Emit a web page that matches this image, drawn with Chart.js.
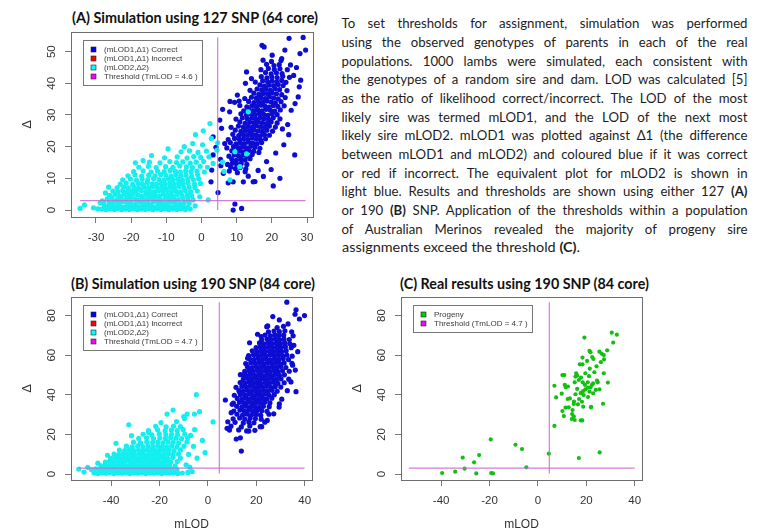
<!DOCTYPE html>
<html>
<head>
<meta charset="utf-8">
<script src="https://cdn.jsdelivr.net/npm/chart.js@4.4.1/dist/chart.umd.min.js"></script>
<style>
  body { margin: 0; width: 766px; height: 531px; background: #fff; position: relative; overflow: hidden; font-family: Lato, "Liberation Sans", sans-serif; }
  canvas { position: absolute; }
  .ttl { position: absolute; white-space: nowrap; font-weight: bold; font-size: 14.5px; line-height: 18px; color: #111; transform-origin: 0 50%; }
  .ln { position: absolute; left: 341.5px; white-space: nowrap; font-size: 13.2px; line-height: 18px; color: #1d1d1d; transform-origin: 0 50%; }
</style>
</head>
<body>

<div class="ttl" id="tA" style="left:72px;top:9px" data-w="246">(A) Simulation using 127 SNP (64 core)</div>
<div class="ttl" id="tB" style="left:71px;top:275px" data-w="244">(B) Simulation using 190 SNP (84 core)</div>
<div class="ttl" id="tC" style="left:400px;top:275px" data-w="249">(C) Real results using 190 SNP (84 core)</div>

<div id="para"></div>

<canvas id="cA" width="330" height="231" style="left:0;top:26px"></canvas>
<canvas id="cB" width="330" height="239" style="left:0;top:292px"></canvas>
<canvas id="cC" width="330" height="239" style="left:330px;top:292px"></canvas>

<script>
// tick labels
const aXTicks = [-30, -20, -10, 0, 10, 20, 30];
const aYTicks = [0, 10, 20, 30, 40, 50];
const bcXTicks = [-40, -20, 0, 20, 40];
const bcYTicks = [0, 20, 40, 60, 80];

// thresholds
const tmlodA = 4.6;
const tmlodBC = 4.7;
const deltaCut = 3;

// (A) 127 SNP - mLOD1 vs delta1, correct assignments
const aMlod1 = [
  [7.9,12.3],[10.2,11.8],[12.4,12.1],[8.3,13.5],[9.6,13.1],[11.0,13.4],[12.6,13.0],
  [7.4,14.4],[8.8,14.8],[10.0,14.5],[11.3,14.7],[12.9,14.4],[8.6,16.1],[9.9,15.7],[11.2,16.0],[12.4,15.8],[13.8,16.2],
  [7.8,17.0],[9.3,17.4],[10.5,17.1],[11.8,17.3],[13.0,17.0],[14.4,17.5],
  [8.6,18.7],[9.9,18.3],[11.1,18.6],[12.3,18.4],[13.5,18.8],[14.8,18.5],[16.3,18.2],
  [7.2,19.6],[9.1,20.0],[10.4,19.7],[11.6,19.9],[12.8,19.6],[14.0,20.1],[15.2,19.8],[16.6,19.5],
  [8.2,21.3],[9.8,20.9],[11.0,21.2],[12.2,21.0],[13.4,21.4],[14.6,21.1],[15.8,20.9],[17.1,21.3],
  [7.6,22.2],[9.4,22.6],[10.8,22.3],[12.0,22.5],[13.2,22.2],[14.4,22.7],[15.6,22.4],[16.8,22.1],[18.2,22.5],
  [8.9,23.9],[10.6,23.5],[11.9,23.8],[13.1,23.6],[14.3,24.0],[15.5,23.7],[16.7,23.4],[17.9,23.8],[19.3,23.6],
  [9.6,25.2],[11.2,24.8],[12.5,25.1],[13.7,24.9],[14.9,25.3],[16.1,25.0],[17.3,24.8],[18.6,25.2],[20.2,24.9],
  [8.4,26.1],[10.5,26.5],[11.9,26.2],[13.2,26.4],[14.4,26.1],[15.6,26.6],[16.8,26.3],[18.0,26.1],[19.3,26.5],[21.0,26.2],
  [10.9,27.8],[12.4,27.4],[13.7,27.7],[14.9,27.5],[16.1,27.9],[17.3,27.6],[18.5,27.3],[19.8,27.8],[21.5,27.5],
  [9.8,28.7],[11.6,29.1],[13.0,28.8],[14.3,29.0],[15.5,28.7],[16.7,29.2],[17.9,28.9],[19.1,28.6],[20.4,29.1],[22.3,28.8],
  [11.2,30.4],[12.8,30.0],[14.1,30.3],[15.3,30.1],[16.5,30.5],[17.7,30.2],[18.9,29.9],[20.1,30.4],[21.5,30.1],
  [12.0,31.3],[13.5,31.7],[14.8,31.4],[16.0,31.6],[17.2,31.3],[18.4,31.8],[19.6,31.5],[20.8,31.2],[22.4,31.6],
  [10.9,33.0],[12.9,32.6],[14.3,32.9],[15.6,32.7],[16.8,33.1],[18.0,32.8],[19.2,32.5],[20.4,33.0],[21.7,32.7],[23.5,32.9],
  [13.4,34.3],[14.9,33.9],[16.2,34.2],[17.4,34.0],[18.6,34.4],[19.8,34.1],[21.0,33.8],[22.6,34.2],
  [12.3,35.2],[14.2,35.6],[15.6,35.3],[16.9,35.5],[18.1,35.2],[19.3,35.7],[20.5,35.4],[21.8,35.1],[23.8,35.5],
  [14.9,36.9],[16.3,36.5],[17.6,36.8],[18.8,36.6],[20.0,37.0],[21.3,36.7],[22.8,36.4],
  [13.8,37.8],[15.8,38.2],[17.1,37.9],[18.4,38.1],[19.6,37.8],[20.9,38.3],[22.2,38.0],[24.3,37.7],
  [16.6,39.5],[17.9,39.1],[19.2,39.4],[20.5,39.2],[21.8,39.6],[23.2,39.3],
  [15.3,40.4],[17.4,40.8],[18.8,40.5],[20.1,40.7],[21.4,40.4],[22.8,40.9],
  [17.0,42.1],[18.6,41.7],[20.0,42.0],[21.5,41.8],[23.1,42.2],[25.0,41.9],
  [18.2,43.4],[19.8,43.0],[21.3,43.3],[22.9,43.1],[16.9,44.3],[19.0,44.7],[20.7,44.4],[22.3,44.6],[24.4,44.3],
  [18.5,46.0],[20.6,45.6],[22.1,45.9],[17.5,47.3],[19.9,46.9],[22.6,47.2],
  [24.9,54.2],[28.9,54.5],[29.6,50.5],[28.0,49.4],[17.2,52.0],[17.8,51.5],[23.7,50.5],[22.8,47.8],
  [28.2,41.0],[27.8,38.9],[27.5,35.7],[26.5,17.4],[22.3,10.0],[20.4,7.6],[4.7,5.5],[9.5,1.9],[9.0,0.0],[11.4,0.5],
  [7.6,8.6],[6.2,11.6],[2.9,12.6],[3.3,17.4],[5.7,25.8],[3.3,23.1],[5.2,28.4],[2.7,8.9],[9.0,8.9],[11.9,8.9],
  [14.7,8.9],[17.6,10.6],[19.8,12.8],[24.5,27.0],[25.5,31.5],[26.2,42.5],[25.3,45.8],[14.2,41.5],[12.8,43.6],
  [12.5,40.0],[10.2,36.3],[8.1,34.3],[9.4,34.0],[10.7,34.4],[8.0,31.0],[6.6,21.0],[5.4,16.0],[13.3,10.7],
  [16.1,12.5],[18.5,15.3],[23.4,20.6],[24.8,23.8],[15.2,9.0],[4.1,19.8],[6.0,31.8],[21.1,18.0],[23.0,25.6],
  [26.6,33.6],[27.0,45.0],[20.1,48.9],[24.0,40.3],[5.5,14.0]
];
const aMlod1Wrong = [];

// (A) 127 SNP - mLOD2 vs delta2
const aMlod2 = [
  [-28.3,0.3],[-27.1,0.1],[-26.0,0.4],[-24.8,0.2],[-23.9,0.5],[-22.7,0.1],[-21.6,0.3],[-20.5,0.2],[-19.4,0.4],[-18.2,0.1],
  [-17.1,0.3],[-16.0,0.2],[-14.9,0.5],[-13.8,0.1],[-12.6,0.3],[-11.5,0.2],[-10.4,0.4],[-9.3,0.1],[-8.1,0.3],[-7.0,0.2],
  [-5.9,0.4],[-4.6,0.1],[-3.2,0.3],
  [-27.6,1.3],[-26.5,1.0],[-25.4,1.4],[-24.3,1.1],[-23.2,1.2],[-22.1,0.9],[-21.0,1.4],[-19.9,1.1],[-18.8,1.2],[-17.6,1.0],
  [-16.5,1.3],[-15.4,1.1],[-14.3,1.4],[-13.2,0.9],[-12.0,1.2],[-10.9,1.1],[-9.8,1.3],[-8.7,1.0],[-7.5,1.4],[-6.3,1.1],
  [-5.2,1.2],[-3.9,0.9],[-1.8,1.3],
  [-27.9,2.4],[-26.3,2.2],[-25.0,2.5],[-23.6,2.1],[-22.5,2.6],[-21.2,2.2],[-20.1,2.4],[-18.7,2.0],[-17.4,2.5],[-16.3,2.3],
  [-15.1,2.1],[-13.7,2.6],[-12.4,2.2],[-11.3,2.4],[-10.0,2.1],[-8.8,2.5],[-7.6,2.3],[-6.2,2.0],[-4.9,2.4],[-3.5,2.2],
  [-26.8,3.5],[-25.5,3.8],[-24.1,3.3],[-22.9,3.6],[-21.5,3.4],[-20.3,3.9],[-19.0,3.5],[-17.8,3.2],[-16.6,3.7],[-15.3,3.4],
  [-14.1,3.8],[-12.9,3.5],[-11.7,3.3],[-10.3,3.7],[-9.1,3.4],[-7.9,3.6],[-6.6,3.3],[-5.3,3.8],[-3.9,3.5],[-2.4,3.2],
  [-26.1,4.6],[-24.6,4.9],[-23.3,4.5],[-22.0,4.8],[-20.7,4.6],[-19.5,5.0],[-18.1,4.7],[-16.9,4.4],[-15.6,4.9],[-14.5,4.6],
  [-13.2,4.8],[-11.9,4.5],[-10.8,5.0],[-9.5,4.7],[-8.3,4.4],[-7.0,4.9],[-5.6,4.6],[-4.1,4.8],[-2.8,4.5],
  [-25.2,6.0],[-23.8,5.8],[-22.4,6.1],[-21.1,5.7],[-19.8,6.0],[-18.6,5.9],[-17.2,6.2],[-15.9,5.8],[-14.7,6.0],[-13.4,5.7],
  [-12.2,6.1],[-11.0,5.9],[-9.8,6.2],[-8.5,5.8],[-7.3,6.0],[-6.0,5.7],[-4.6,6.1],[-3.1,5.8],[-1.2,6.0],
  [-24.0,7.0],[-22.1,7.3],[-20.8,7.0],[-19.2,7.2],[-17.9,6.9],[-16.4,7.3],[-15.1,7.1],[-13.9,7.4],[-12.6,7.0],[-11.4,7.2],
  [-10.2,6.9],[-8.9,7.3],[-7.7,7.1],[-6.4,7.4],[-5.0,7.0],[-3.5,7.2],[-1.9,7.1],
  [-23.1,8.2],[-21.4,8.5],[-19.6,8.1],[-18.0,8.4],[-16.8,8.2],[-15.4,8.6],[-14.0,8.3],[-12.8,8.1],[-11.5,8.5],[-10.3,8.2],
  [-9.0,8.4],[-7.8,8.1],[-6.5,8.5],[-5.2,8.3],[-3.8,8.6],[-2.0,8.2],[-0.3,8.4],
  [-22.4,9.5],[-20.2,9.8],[-18.5,9.4],[-16.9,9.7],[-15.3,9.5],[-13.6,9.9],[-12.1,9.6],[-10.7,9.4],[-9.4,9.8],[-8.1,9.5],
  [-6.7,9.7],[-5.4,9.4],[-3.9,9.8],[-2.3,9.6],[-0.8,9.9],
  [-20.9,10.8],[-18.9,11.1],[-17.0,10.7],[-15.0,11.0],[-13.2,10.8],[-11.6,11.2],[-10.1,10.9],[-8.6,10.7],[-7.3,11.1],
  [-5.9,10.8],[-4.4,11.0],[-2.8,10.7],[-1.1,11.1],
  [-19.3,12.1],[-16.6,12.4],[-14.3,12.0],[-12.5,12.3],[-10.6,12.1],[-8.9,12.5],[-7.4,12.2],[-6.0,12.0],[-4.5,12.4],
  [-3.0,12.1],[-1.3,12.3],[0.8,12.0],
  [-17.8,13.5],[-15.1,13.8],[-12.9,13.4],[-10.2,13.7],[-8.1,13.5],[-6.2,13.9],[-4.3,13.6],[-2.6,13.4],[-0.4,13.8],[1.7,13.5],
  [-14.8,15.1],[-11.8,14.9],[-9.0,15.3],[-7.1,15.0],[-5.3,15.2],[-3.2,14.8],[-1.5,15.1],[0.6,15.3],[3.3,14.7],
  [-14.2,17.2],[-10.5,16.5],[-6.9,16.8],[-4.1,16.4],[-2.2,16.9],[-0.2,16.6],[2.1,16.8],[6.0,15.1],
  [-9.5,19.3],[-5.8,18.4],[-3.4,18.7],[-1.0,18.2],[1.4,18.6],[4.4,18.9],
  [-4.9,20.0],[-2.5,21.0],[-1.7,23.8],[0.5,25.0],[2.4,27.3],[4.6,21.2],[9.5,18.4],[12.8,17.7],[10.9,13.7],[13.3,31.0],
  [8.1,9.5],[1.9,3.2],[-0.5,4.2],[-18.8,14.9],[-16.6,15.6],[0.3,20.6],[2.8,22.6],[6.4,12.2],
  [-34.5,0.5],[-33.3,1.6],[-30.7,0.7],[-29.5,0.4],[-28.8,2.3],[-28.2,2.9],[-26.4,7.2],[-27.3,5.4]
];

// (B) 190 SNP - mLOD1 vs delta1, correct
const bMlod1 = [
  [12.7,22.3],[16.0,21.8],[19.4,22.1],[9.5,24.2],[13.8,23.8],[17.3,24.3],[21.6,23.9],
  [11.2,26.1],[14.6,25.8],[16.9,26.3],[19.0,25.9],[23.5,26.2],
  [10.4,27.9],[13.1,28.3],[15.2,27.8],[17.4,28.2],[19.6,28.0],[22.0,27.7],
  [12.0,30.2],[14.3,29.8],[16.1,30.3],[18.0,29.9],[19.9,30.1],[21.8,29.7],[25.2,30.2],
  [10.7,31.8],[13.2,32.3],[15.0,31.9],[16.8,32.2],[18.6,31.8],[20.4,32.3],[22.2,32.0],[24.4,31.7],
  [11.9,34.2],[14.0,33.8],[15.8,34.3],[17.6,33.9],[19.3,34.1],[21.1,33.7],[22.9,34.2],[25.3,34.0],[29.4,33.8],
  [10.5,35.8],[13.0,36.2],[14.8,35.9],[16.5,36.3],[18.3,35.8],[20.0,36.1],[21.7,35.9],[23.5,36.3],[25.6,35.9],
  [12.1,38.2],[14.1,37.8],[15.8,38.3],[17.5,37.9],[19.2,38.1],[20.9,37.7],[22.6,38.2],[24.3,37.9],[26.4,38.3],[30.5,37.8],
  [10.9,39.8],[13.4,40.2],[15.2,39.9],[16.9,40.3],[18.5,39.8],[20.2,40.1],[21.9,39.9],[23.6,40.3],[25.3,39.8],[27.4,40.1],
  [12.8,42.2],[14.6,41.8],[16.3,42.3],[18.0,41.9],[19.7,42.1],[21.4,41.7],[23.1,42.2],[24.8,41.9],[26.5,42.3],[28.6,41.8],[32.8,42.1],
  [11.6,43.8],[14.0,44.2],[15.8,43.9],[17.5,44.3],[19.2,43.8],[20.9,44.1],[22.6,43.9],[24.3,44.3],[26.0,43.8],[27.8,44.1],[30.1,43.9],
  [13.3,46.2],[15.2,45.8],[16.9,46.3],[18.6,45.9],[20.3,46.1],[22.0,45.7],[23.7,46.2],[25.4,45.9],[27.1,46.3],[28.9,45.8],[31.5,46.1],
  [14.6,47.8],[16.4,48.2],[18.1,47.9],[19.8,48.3],[21.5,47.8],[23.2,48.1],[24.9,47.9],[26.6,48.3],[28.3,47.8],[30.2,48.1],[33.4,47.9],
  [13.4,50.2],[15.7,49.8],[17.5,50.3],[19.2,49.9],[20.9,50.1],[22.6,49.7],[24.3,50.2],[26.0,49.9],[27.7,50.3],[29.5,49.8],[31.6,50.1],
  [15.2,51.8],[17.0,52.2],[18.7,51.9],[20.4,52.3],[22.1,51.8],[23.8,52.1],[25.5,51.9],[27.2,52.3],[28.9,51.8],[30.8,52.1],[33.6,51.9],
  [16.3,54.2],[18.2,53.8],[19.9,54.3],[21.6,53.9],[23.3,54.1],[25.0,53.7],[26.7,54.2],[28.4,53.9],[30.1,54.3],[32.2,53.8],
  [15.6,55.8],[17.7,56.2],[19.5,55.9],[21.2,56.3],[22.9,55.8],[24.6,56.1],[26.3,55.9],[28.0,56.3],[29.7,55.8],[31.5,56.1],[34.7,55.9],
  [17.2,58.2],[19.1,57.8],[20.8,58.3],[22.5,57.9],[24.2,58.1],[25.9,57.7],[27.6,58.2],[29.3,57.9],[31.1,58.3],[33.3,57.8],
  [16.8,59.8],[18.8,60.2],[20.5,59.9],[22.2,60.3],[23.9,59.8],[25.6,60.1],[27.3,59.9],[29.0,60.3],[30.8,59.8],[32.6,60.1],
  [18.3,62.2],[20.2,61.8],[21.9,62.3],[23.6,61.9],[25.3,62.1],[27.0,61.7],[28.7,62.2],[30.4,61.9],[32.3,62.3],[37.1,61.8],
  [19.9,63.8],[21.7,64.2],[23.4,63.9],[25.1,64.3],[26.8,63.8],[28.5,64.1],[30.2,63.9],[32.0,64.3],[34.4,63.8],
  [21.3,66.2],[23.1,65.8],[24.8,66.3],[26.5,65.9],[28.2,66.1],[29.9,65.7],[31.7,66.2],[33.8,65.9],
  [22.2,67.8],[24.4,68.2],[26.2,67.9],[27.9,68.3],[29.6,67.8],[31.4,68.1],[33.6,67.9],
  [23.6,70.2],[25.8,69.8],[27.6,70.3],[29.4,69.9],[31.3,70.1],[35.2,69.8],
  [25.0,71.8],[27.3,72.2],[29.5,71.9],[31.8,72.3],[34.6,71.8],[24.3,74.4],[28.6,74.0],[31.2,74.6],
  [32.6,86.8],[36.4,82.9],[36.0,80.7],[37.8,78.3],[39.9,80.0],[29.5,77.8],[11.7,17.7],[13.4,18.3],[13.8,11.6],
  [8.2,26.4],[8.9,22.2],[16.9,21.7],[22.2,23.9],[7.9,23.1],[7.2,37.4],[10.0,35.2],[35.0,55.0],[36.4,41.6],
  [29.5,35.4],[19.9,31.0],[27.2,30.4],[24.5,27.1],[34.3,46.5],[36.1,52.5],[33.1,75.8],[20.5,70.6],[17.2,66.3],
  [14.4,50.0],[13.0,41.6],[16.4,58.5],[24.7,74.8],[22.0,69.4],[35.5,65.0],[34.8,59.5],[9.6,31.0],[26.8,79.5]
];
const bMlod1Wrong = [];

// (B) 190 SNP - mLOD2 vs delta2
const bMlod2 = [
  [-47.1,0.6],[-45.4,0.3],[-43.8,0.7],[-42.1,0.4],[-40.5,0.8],[-38.8,0.3],[-37.2,0.6],[-35.5,0.4],[-33.9,0.7],[-32.2,0.3],
  [-30.6,0.6],[-28.9,0.4],[-27.3,0.8],[-25.6,0.3],[-24.0,0.6],[-22.3,0.4],[-20.7,0.7],[-19.0,0.3],[-17.4,0.6],[-15.7,0.4],
  [-14.1,0.7],[-12.4,0.3],[-10.6,0.5],
  [-48.2,2.3],[-46.4,2.6],[-44.7,2.2],[-43.0,2.5],[-41.3,2.3],[-39.6,2.7],[-38.0,2.4],[-36.3,2.2],[-34.7,2.6],[-33.0,2.3],
  [-31.4,2.5],[-29.7,2.2],[-28.1,2.6],[-26.4,2.4],[-24.8,2.2],[-23.1,2.6],[-21.5,2.3],[-19.8,2.5],[-18.2,2.2],[-16.5,2.6],
  [-14.9,2.4],[-12.8,2.2],
  [-44.3,4.2],[-42.5,4.5],[-40.8,4.1],[-39.1,4.4],[-37.4,4.2],[-35.8,4.6],[-34.1,4.3],[-32.5,4.1],[-30.8,4.5],[-29.2,4.2],
  [-27.5,4.4],[-25.9,4.1],[-24.2,4.5],[-22.6,4.3],[-20.9,4.1],[-19.3,4.5],[-17.6,4.2],[-15.9,4.4],[-13.6,4.1],
  [-42.4,6.1],[-40.6,6.4],[-38.9,6.0],[-37.1,6.3],[-35.4,6.1],[-33.8,6.5],[-32.1,6.2],[-30.5,6.0],[-28.8,6.4],[-27.2,6.1],
  [-25.5,6.3],[-23.9,6.0],[-22.2,6.4],[-20.6,6.2],[-18.9,6.0],[-17.3,6.4],[-15.4,6.1],[-12.7,6.3],
  [-40.2,8.0],[-38.3,8.3],[-36.6,7.9],[-34.9,8.2],[-33.2,8.0],[-31.6,8.4],[-29.9,8.1],[-28.3,7.9],[-26.6,8.3],[-25.0,8.0],
  [-23.3,8.2],[-21.7,7.9],[-20.0,8.3],[-18.4,8.1],[-16.6,7.9],[-14.5,8.3],[-11.4,8.0],
  [-38.8,10.1],[-36.9,9.8],[-35.1,10.2],[-33.4,9.9],[-31.7,10.1],[-30.0,9.8],[-28.3,10.2],[-26.7,10.0],[-25.0,9.8],
  [-23.4,10.2],[-21.7,9.9],[-20.0,10.1],[-18.3,9.8],[-16.5,10.2],[-14.6,9.9],[-12.2,10.1],
  [-36.6,12.1],[-34.4,11.8],[-32.4,12.2],[-30.5,11.9],[-28.7,12.1],[-26.9,11.8],[-25.1,12.2],[-23.4,12.0],[-21.6,11.8],
  [-19.8,12.2],[-18.0,11.9],[-16.1,12.1],[-14.0,11.8],[-11.3,12.2],
  [-33.7,14.1],[-31.3,13.8],[-29.0,14.2],[-26.9,13.9],[-24.8,14.1],[-22.8,13.8],[-20.8,14.2],[-18.9,14.0],[-17.0,13.8],
  [-15.0,14.2],[-12.8,13.9],[-9.9,14.1],
  [-30.8,16.1],[-27.9,15.8],[-25.3,16.2],[-22.9,15.9],[-20.7,16.1],[-18.6,15.8],[-16.5,16.2],[-14.4,16.0],[-12.1,15.8],[-8.7,16.2],
  [-28.6,18.0],[-25.4,18.3],[-22.5,17.9],[-19.9,18.2],[-17.6,18.0],[-15.4,18.4],[-13.2,18.1],[-10.9,17.9],[-8.4,18.3],
  [-26.8,20.1],[-23.2,19.8],[-20.1,20.2],[-17.4,19.9],[-15.0,20.1],[-12.6,19.8],[-9.6,20.2],
  [-24.6,22.0],[-20.8,22.3],[-17.7,21.9],[-15.1,22.2],[-12.7,22.0],[-10.2,22.4],
  [-21.6,24.1],[-17.3,23.8],[-14.2,24.2],[-11.4,24.0],
  [-53.4,2.5],[-49.7,3.4],[-51.2,1.0],[-4.8,40.1],[2.1,26.3],[-14.4,32.3],[-16.9,30.3],[-32.7,24.9],[-10.0,29.0],
  [-5.6,30.3],[-3.5,31.5],[-8.6,30.3],[-9.7,28.1],[-1.2,10.8],[-6.5,1.2],[-7.5,3.5],[-4.5,8.0],[-6.0,14.0],[-7.2,19.5],
  [-5.5,22.4],[-13.0,26.5],[-19.4,26.0],[-24.5,21.0],[-31.6,19.4],[-38.0,15.5],[-41.5,9.5],[-45.5,5.5],[-2.3,17.0],
  [-8.0,9.9],[-9.0,4.6],[-8.3,0.8]
];

// (C) real progeny, 190 SNP
const cProgeny = [
  [-39.6,0.5],[-34.2,1.2],[-30.3,2.7],[-31.1,8.3],[-26.4,5.9],[-24.3,9.6],[-25.5,0.3],[-19.5,17.5],[-19.3,0.5],[-18.6,0.3],
  [-9.3,14.8],[-6.6,12.6],[-4.8,3.4],[4.5,10.3],[16.9,8.1],[25.5,10.9],
  [30.5,71.4],[32.6,70.4],[19.2,68.9],[31.1,66.4],[21.3,62.2],[21.7,61.5],[25.4,61.8],[26.3,60.8],[27.2,60.1],[28.6,62.5],
  [18.4,58.8],[22.4,59.1],[22.9,58.1],[27.3,57.9],[17.3,55.4],[18.4,55.4],[20.3,57.1],[24.2,54.4],[21.4,53.2],[15.8,50.9],
  [19.6,50.9],[27.2,50.9],[10.1,50.0],[10.9,50.0],[16.2,49.7],[17.8,48.7],[21.1,49.4],[6.8,44.6],[11.1,45.0],[11.5,43.8],
  [15.2,46.3],[18.5,46.3],[19.4,45.0],[20.6,46.3],[22.3,45.0],[24.7,46.3],[28.9,46.2],[16.2,43.0],[18.7,41.9],[20.6,43.6],
  [17.7,40.8],[25.4,42.8],[23.9,42.5],[15.5,40.3],[18.9,39.9],[7.5,38.7],[12.3,37.9],[13.2,38.2],[22.8,40.8],[17.0,37.9],
  [20.7,38.9],[14.9,36.6],[16.5,35.2],[18.7,34.0],[22.0,33.9],[26.9,35.5],[10.1,31.8],[11.4,33.5],[14.3,32.3],[10.7,29.3],
  [14.1,30.3],[14.8,29.1],[14.0,27.8],[15.2,27.3],[17.7,27.1],[18.3,27.1],[6.8,24.3],
  [15.5,49.2],[16.9,47.5],[21.7,43.8],[22.8,45.8],[24.4,47.2],[19.6,42.8],[17.9,41.1],[21.3,41.6],[12.7,33.7],[14.8,35.4],
  [18.2,36.5],[21.9,33.7],[23.3,51.4],[12.4,44.2],[9.8,40.6],[26.0,56.5]
];

const paraLines = [
  'To set thresholds for assignment, simulation was performed',
  'using the observed genotypes of parents in each of the real',
  'populations. 1000 lambs were simulated, each consistent with',
  'the genotypes of a random sire and dam. LOD was calculated [5]',
  'as the ratio of likelihood correct/incorrect. The LOD of the most',
  'likely sire was termed mLOD1, and the LOD of the next most',
  'likely sire mLOD2. mLOD1 was plotted against Δ1 (the difference',
  'between mLOD1 and mLOD2) and coloured blue if it was correct',
  'or red if incorrect. The equivalent plot for mLOD2 is shown in',
  'light blue. Results and thresholds are shown using either 127 <b>(A)</b>',
  'or 190 <b>(B)</b> SNP. Application of the thresholds within a population',
  'of Australian Merinos revealed the majority of progeny sire',
  'assignments exceed the threshold <b>(C)</b>.'
];

const FONT = '"Liberation Sans", Arial, sans-serif';
const LINE_COL = 'rgba(204,102,204,0.85)';

// paragraph, one block per line, justified by word spacing
const para = document.getElementById('para');
paraLines.forEach((t, i) => {
  const d = document.createElement('div');
  d.className = 'ln';
  d.style.top = (14.3 + i * 18.67) + 'px';
  d.innerHTML = t;
  para.appendChild(d);
  const w = d.getBoundingClientRect().width;
  const gaps = (d.textContent.match(/ /g) || []).length;
  const target = i < paraLines.length - 1 ? 406 : 238;
  if (i < paraLines.length - 1 && w < target) d.style.wordSpacing = ((target - w) / gaps) + 'px';
  else d.style.transform = 'scaleX(' + (target / w) + ')';
});

document.querySelectorAll('.ttl').forEach(el => {
  const w = el.getBoundingClientRect().width;
  el.style.transform = 'scaleX(' + (+el.dataset.w / w) + ')';
});

const pts = arr => arr.map(([x, y]) => ({x, y}));

function dots(arr, color, order, legend, legendColor, r) {
  return {data: pts(arr), backgroundColor: color, borderWidth: 0, pointRadius: r || 2.6, order, legend, legendColor};
}

function thresholdLines(tm, all) {
  const xs = all.map(p => p[0]), ys = all.map(p => p[1]);
  const base = {showLine: true, borderColor: LINE_COL, borderWidth: 1.2, pointRadius: 0, order: 0};
  return [
    Object.assign({data: [{x: tm, y: Math.min(...ys)}, {x: tm, y: Math.max(...ys)}],
      legend: 'Threshold (TmLOD = ' + tm + ' )', legendColor: '#ff00ff'}, base),
    Object.assign({data: [{x: Math.min(...xs), y: deltaCut}, {x: Math.max(...xs), y: deltaCut}]}, base)
  ];
}

// R style frame, rotated y labels and boxed legend
const rStyle = {
  id: 'rStyle',
  afterDraw(chart) {
    const {ctx, chartArea: a, scales: {y}} = chart;
    ctx.save();
    ctx.strokeStyle = '#6e6e6e';
    ctx.lineWidth = 1;
    ctx.strokeRect(Math.round(a.left) + 0.5, Math.round(a.top) + 0.5, Math.round(a.right - a.left), Math.round(a.bottom - a.top));

    ctx.fillStyle = '#333';
    ctx.font = '11.5px ' + FONT;
    ctx.textAlign = 'center';
    ctx.textBaseline = 'middle';
    y.ticks.forEach(t => {
      ctx.save();
      ctx.translate(a.left - 19, y.getPixelForValue(t.value));
      ctx.rotate(-Math.PI / 2);
      ctx.fillText(String(t.value), 0, 0);
      ctx.restore();
    });

    const items = chart.data.datasets.filter(d => d.legend);
    const x0 = Math.round(a.left) + 12, y0 = Math.round(a.top) + 8;
    ctx.strokeStyle = '#777';
    ctx.strokeRect(x0 + 0.5, y0 + 0.5, 119, items.length * 9 + 9);
    ctx.font = '8px ' + FONT;
    ctx.textAlign = 'left';
    items.forEach((d, i) => {
      const cy = y0 + 9.5 + i * 9;
      ctx.fillStyle = d.legendColor;
      ctx.fillRect(x0 + 8, cy - 2.5, 5, 5);
      ctx.strokeStyle = '#222';
      ctx.lineWidth = 0.6;
      ctx.strokeRect(x0 + 8, cy - 2.5, 5, 5);
      ctx.fillStyle = '#3a3a3a';
      ctx.fillText(d.legend, x0 + 21, cy);
    });
    ctx.restore();
  }
};

function panel(id, o) {
  const axisGrid = {drawOnChartArea: false, tickLength: 6, color: '#777'};
  new Chart(document.getElementById(id), {
    type: 'scatter',
    data: {datasets: o.datasets},
    plugins: [rStyle],
    options: {
      responsive: false,
      animation: false,
      events: [],
      layout: {padding: {left: 0, right: o.padRight, top: o.padTop, bottom: 0}},
      plugins: {legend: {display: false}, tooltip: {enabled: false}},
      scales: {
        x: {
          type: 'linear', min: o.xMin, max: o.xMax,
          afterBuildTicks: s => { s.ticks = o.xTicks.map(v => ({value: v})); },
          afterFit: s => { s.height = o.xAxisH; },
          grid: axisGrid, border: {display: false},
          ticks: {font: {family: FONT, size: 11.5}, color: '#333', padding: 8, maxRotation: 0},
          title: {display: !!o.xTitle, text: o.xTitle || '', color: '#333',
                  font: {family: FONT, size: 12, lineHeight: 1}, padding: 0}
        },
        y: {
          type: 'linear', min: o.yMin, max: o.yMax,
          afterBuildTicks: s => { s.ticks = o.yTicks.map(v => ({value: v})); },
          afterFit: s => { s.width = 71; },
          grid: axisGrid, border: {display: false},
          ticks: {display: false},
          title: {display: true, text: 'Δ', color: '#333',
                  font: {family: FONT, size: 13, lineHeight: 1}, padding: {top: 21, bottom: 0}}
        }
      }
    }
  });
}

panel('cA', {
  xMin: -37.1, xMax: 31.7, yMin: -2.2, yMax: 56.2, xTicks: aXTicks, yTicks: aYTicks,
  padRight: 17, padTop: 6, xAxisH: 40,
  datasets: [
    dots(aMlod1, '#0c0cd2', 3, '(mLOD1,Δ1) Correct', '#0000ff'),
    dots(aMlod1Wrong, '#ff0000', 2, '(mLOD1,Δ1) Incorrect', '#ff0000'),
    dots(aMlod2, '#14eeee', 1, '(mLOD2,Δ2)', '#00ffff'),
    ...thresholdLines(tmlodA, aMlod1.concat(aMlod2))
  ]
});

panel('cB', {
  xMin: -56.6, xMax: 43.0, yMin: -3.0, yMax: 89.4, xTicks: bcXTicks, yTicks: bcYTicks,
  padRight: 18, padTop: 5, xAxisH: 51, xTitle: 'mLOD',
  datasets: [
    dots(bMlod1, '#0c0cd2', 3, '(mLOD1,Δ1) Correct', '#0000ff'),
    dots(bMlod1Wrong, '#ff0000', 2, '(mLOD1,Δ1) Incorrect', '#ff0000'),
    dots(bMlod2, '#14eeee', 1, '(mLOD2,Δ2)', '#00ffff'),
    ...thresholdLines(tmlodBC, bMlod1.concat(bMlod2))
  ]
});

panel('cC', {
  xMin: -56.6, xMax: 43.0, yMin: -3.0, yMax: 89.4, xTicks: bcXTicks, yTicks: bcYTicks,
  padRight: 18, padTop: 5, xAxisH: 51, xTitle: 'mLOD',
  datasets: [
    dots(cProgeny, '#12c012', 1, 'Progeny', '#00cd00', 2.1),
    ...thresholdLines(tmlodBC, bMlod1.concat(bMlod2))
  ]
});
</script>
</body>
</html>
